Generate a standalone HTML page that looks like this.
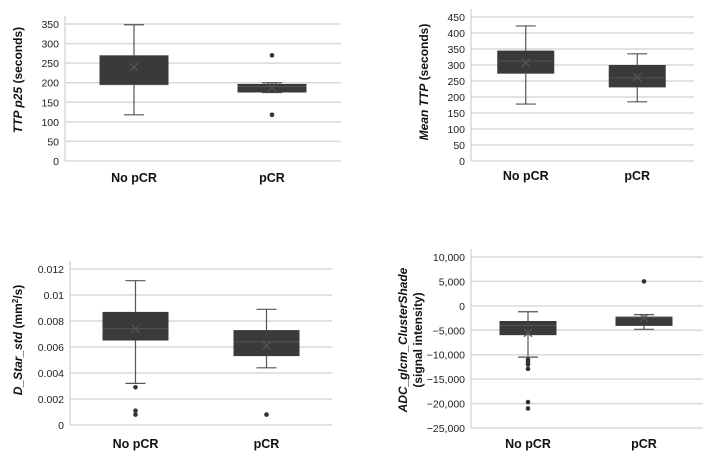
<!DOCTYPE html>
<html><head><meta charset="utf-8"><style>
body{margin:0;background:#fff;}
svg{display:block;font-family:"Liberation Sans",Arial,sans-serif;}
</style></head><body>
<svg id="svg" width="716" height="461" viewBox="0 0 716 461"></svg>
<script>
const categories = ["No pCR", "pCR"];
// chart 1: TTP p25
const c1Min = [118, 175], c1Q1 = [195, 175], c1Med = [195, 190], c1Q3 = [270, 197], c1Max = [348, 200], c1Mean = [240, 188];
const c1Out = [[], [270, 118]];
const c1Ticks = [0, 50, 100, 150, 200, 250, 300, 350];
// chart 2: Mean TTP
const c2Min = [178, 185], c2Q1 = [273, 230], c2Med = [312, 260], c2Q3 = [345, 300], c2Max = [422, 335], c2Mean = [307, 262];
const c2Out = [[], []];
const c2Ticks = [0, 50, 100, 150, 200, 250, 300, 350, 400, 450];
// chart 3: D_Star_std
const c3Min = [0.0032, 0.0044], c3Q1 = [0.0065, 0.0053], c3Med = [0.0074, 0.0064], c3Q3 = [0.0087, 0.0073], c3Max = [0.0111, 0.0089], c3Mean = [0.0074, 0.0061];
const c3Out = [[0.0029, 0.0011, 0.0008], [0.0008]];
const c3Ticks = [0, 0.002, 0.004, 0.006, 0.008, 0.01, 0.012];
const c3TickLabels = ["0", "0.002", "0.004", "0.006", "0.008", "0.01", "0.012"];
// chart 4: ADC glcm ClusterShade
const c4Min = [-10500, -4800], c4Q1 = [-6000, -4100], c4Med = [-4000, -2300], c4Q3 = [-3100, -2200], c4Max = [-1200, -1800], c4Mean = [-5500, -2500];
const c4Out = [[-11000, -11500, -12000, -12900, -19700, -21000], [5000]];
const c4Ticks = [-25000, -20000, -15000, -10000, -5000, 0, 5000, 10000];
const c4TickLabels = ["\u221225,000", "\u221220,000", "\u221215,000", "\u221210,000", "\u22125,000", "0", "5,000", "10,000"];

const NS = "http://www.w3.org/2000/svg";
const svg = document.getElementById("svg");
function mk(tag, attrs, parent, text) {
  const e = document.createElementNS(NS, tag);
  for (const k in attrs) e.setAttribute(k, attrs[k]);
  if (text !== undefined) e.textContent = text;
  (parent || svg).appendChild(e);
  return e;
}

function chart(cfg) {
  const g = mk("g", {});
  
  
  const tMin = cfg.ticks[0], tMax = cfg.ticks[cfg.ticks.length - 1];
  const y = v => cfg.y0 + (v - tMin) / (tMax - tMin) * (cfg.y1 - cfg.y0);
  cfg.ticks.forEach((t, i) => {
    const gl = mk("line", {x1: cfg.x0, x2: cfg.x1, y1: y(t), y2: y(t), stroke: "#d9d9d9", "stroke-width": 1.5}, g);
    
    
    const tl = mk("text", {x: cfg.x0 - 6, y: y(t) + 4, "text-anchor": "end", "font-size": 10.5, fill: "#222"}, g, cfg.tickLabels ? cfg.tickLabels[i] : String(t));
    
    
  });
  const ax = mk("line", {x1: cfg.x0, x2: cfg.x0, y1: cfg.y0, y2: cfg.y1 - 8, stroke: "#d9d9d9", "stroke-width": 1.5}, g);
  
  
  const step = (cfg.x1 - cfg.x0) / 2;
  const bw = cfg.bw, cw = 10;
  categories.forEach((c, i) => {
    const cx = cfg.x0 + step * (i + 0.5) + cfg.shift;
    const bg = mk("g", {}, g);
    
    
    const ws = "#555";
    mk("line", {x1: cx, x2: cx, y1: y(cfg.min[i]), y2: y(cfg.q1[i]), stroke: ws, "stroke-width": 1.2}, bg);
    mk("line", {x1: cx, x2: cx, y1: y(cfg.q3[i]), y2: y(cfg.max[i]), stroke: ws, "stroke-width": 1.2}, bg);
    mk("line", {x1: cx - cw, x2: cx + cw, y1: y(cfg.min[i]), y2: y(cfg.min[i]), stroke: ws, "stroke-width": 1.2}, bg);
    mk("line", {x1: cx - cw, x2: cx + cw, y1: y(cfg.max[i]), y2: y(cfg.max[i]), stroke: ws, "stroke-width": 1.2}, bg);
    mk("rect", {x: cx - bw / 2, y: y(cfg.q3[i]), width: bw, height: Math.max(1, y(cfg.q1[i]) - y(cfg.q3[i])), fill: "#3a3a3a"}, bg);
    mk("line", {x1: cx - bw / 2, x2: cx + bw / 2, y1: y(cfg.med[i]), y2: y(cfg.med[i]), stroke: "#555", "stroke-width": 1}, bg);
    const my = y(cfg.mean[i]);
    mk("path", {d: `M${cx-4},${my-4}L${cx+4},${my+4}M${cx-4},${my+4}L${cx+4},${my-4}`, stroke: "#555", "stroke-width": 1.3}, bg);
    cfg.out[i].forEach(o => {
      const p = mk("circle", {cx: cx, cy: y(o), r: 2.3, fill: "#333"}, bg);
      
      
    });
    const xl = mk("text", {x: cx, y: cfg.labelY, "text-anchor": "middle", "font-size": 12.5, "font-weight": "bold", fill: "#111"}, g, c);
    
    
  });
  const tt = mk("text", {transform: `translate(${cfg.tx},${cfg.ty}) rotate(-90)`, "text-anchor": "middle", "font-size": 12, "font-weight": "bold", fill: "#111"}, g);
  
  
  cfg.title(tt);
  if (cfg.title2) {
    const t2 = mk("text", {transform: `translate(${cfg.tx + 15},${cfg.ty}) rotate(-90)`, "text-anchor": "middle", "font-size": 12, "font-weight": "bold", fill: "#111"}, g, cfg.title2);
    
    
  }
}
function ts(parent, txt, italic, sup) {
  const t = mk("tspan", italic ? {"font-style": "italic"} : (sup ? {"font-size": 8, dy: -4} : {}), parent, txt);
  return t;
}

chart({name: "chart-ttp-p25", x0: 65, x1: 341, y0: 161, y1: 24, shift: 0, bw: 69, labelY: 182,
  min: c1Min, q1: c1Q1, med: c1Med, q3: c1Q3, max: c1Max, mean: c1Mean, out: c1Out, ticks: c1Ticks,
  tx: 22, ty: 80, title: t => { ts(t, "TTP p25", true); ts(t, " (seconds)"); }});
chart({name: "chart-mean-ttp", x0: 471, x1: 694, y0: 161, y1: 17, shift: -1, bw: 57, labelY: 180,
  min: c2Min, q1: c2Q1, med: c2Med, q3: c2Q3, max: c2Max, mean: c2Mean, out: c2Out, ticks: c2Ticks,
  tx: 428, ty: 82, title: t => { ts(t, "Mean ", true); ts(t, "TTP", true); ts(t, " (seconds)"); }});
chart({name: "chart-d-star-std", x0: 70, x1: 332, y0: 425, y1: 269, shift: 0, bw: 66, labelY: 448,
  min: c3Min, q1: c3Q1, med: c3Med, q3: c3Q3, max: c3Max, mean: c3Mean, out: c3Out, ticks: c3Ticks, tickLabels: c3TickLabels,
  tx: 22, ty: 340, title: t => { ts(t, "D_Star_std", true); ts(t, " (mm"); ts(t, "2", false, true); const s = ts(t, "/s)"); s.setAttribute("dy", 4); }});
chart({name: "chart-adc-clustershade", x0: 471, x1: 703, y0: 428, y1: 257, shift: -1, bw: 57, labelY: 448,
  min: c4Min, q1: c4Q1, med: c4Med, q3: c4Q3, max: c4Max, mean: c4Mean, out: c4Out, ticks: c4Ticks, tickLabels: c4TickLabels,
  tx: 407, ty: 340, title: t => { ts(t, "ADC_glcm_ClusterShade", true); }, title2: "(signal intensity)"});
</script>
</body></html>
